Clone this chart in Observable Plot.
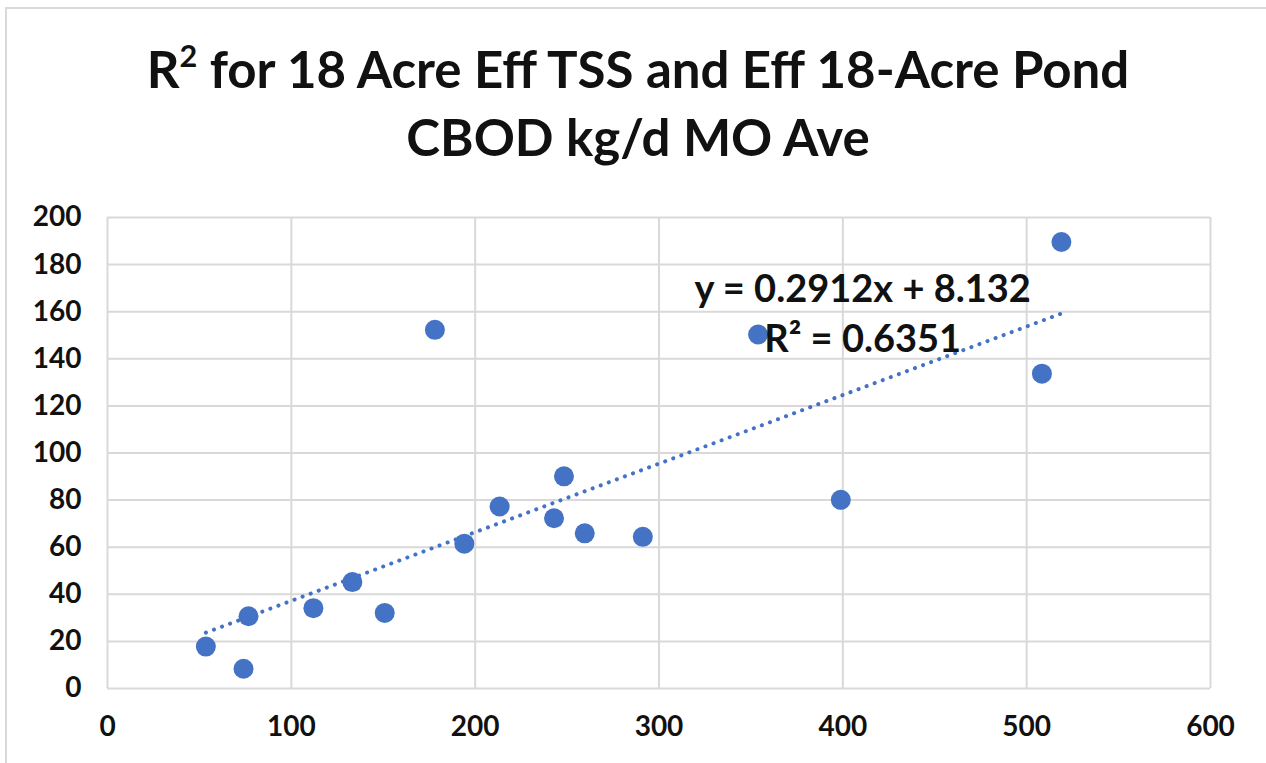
<!DOCTYPE html>
<html>
<head>
<meta charset="utf-8">
<script src="https://cdn.jsdelivr.net/npm/d3@7"></script>
<script src="https://cdn.jsdelivr.net/npm/@observablehq/plot@0.6"></script>
<style>
  html, body { margin: 0; padding: 0; background: #fff; }
  #wrap { position: relative; width: 1266px; height: 763px; overflow: hidden; background: #fff; }
  #frame { position: absolute; left: 5px; top: 7px; width: 1400px; height: 900px;
           border-top: 2px solid #d9d9d9; border-left: 2px solid #d9d9d9; }
  .tline { position: absolute; left: 5px; width: 1266px; height: 60px; text-align: center;
           font-family: Lato, "Open Sans", sans-serif; font-weight: bold; font-size: 51px;
           line-height: 60px; color: #111; white-space: nowrap; }
  .tline sup { font-size: 0.6em; line-height: 0; vertical-align: 0; position: relative; top: -0.7em; }
  #chart { position: absolute; left: 0; top: 170px; }
</style>
</head>
<body>
<div id="wrap">
  <div id="frame"></div>
  <div class="tline" style="top:39px">R<sup>2</sup> for 18 Acre Eff TSS and Eff 18-Acre Pond</div>
  <div class="tline" style="top:107px">CBOD kg/d MO Ave</div>
  <div id="chart"></div>
</div>
<script>
// Data
const effTSS  = [53.5, 74.0, 76.7, 112.0, 133.2, 150.8, 178.1, 194.1, 213.3, 242.9, 248.3, 259.6, 291.2, 353.9, 398.9, 508.3, 518.9];
const pondCBOD = [17.8, 8.4, 30.7, 34.1, 45.2, 32.1, 152.3, 61.5, 77.3, 72.3, 90.1, 65.9, 64.4, 150.3, 80.1, 133.7, 189.6];
const xTicks = [0, 100, 200, 300, 400, 500, 600];
const yTicks = [0, 20, 40, 60, 80, 100, 120, 140, 160, 180, 200];
const trendSlope = 0.2912;
const trendIntercept = 8.132;
const trendLabel = "y = 0.2912x + 8.132\nR² = 0.6351";
const labelAnchorX = 410.8;
const labelAnchorY = 160.5;

const points = effTSS.map((x, i) => ({x, y: pondCBOD[i]}));
const xMin = d3.min(effTSS), xMax = d3.max(effTSS);
const trend = [xMin, xMax].map(x => ({x, y: trendSlope * x + trendIntercept}));

const blue = "#4472C4";
const chart = Plot.plot({
  width: 1266,
  height: 593,
  marginLeft: 107,
  marginRight: 56,
  marginTop: 47,
  marginBottom: 75,
  style: {fontFamily: "Lato, 'Open Sans', sans-serif", fontSize: "28px", fontWeight: "bold", color: "#111", background: "transparent", overflow: "visible"},
  x: {domain: [0, 600], ticks: xTicks, tickSize: 0, tickPadding: 28, label: null},
  y: {domain: [0, 200], ticks: yTicks, tickSize: 0, tickPadding: 26, label: null},
  marks: [
    Plot.gridY(yTicks, {stroke: "#d9d9d9", strokeOpacity: 1, strokeWidth: 2}),
    Plot.gridX(xTicks, {stroke: "#d9d9d9", strokeOpacity: 1, strokeWidth: 2}),
    Plot.line(trend, {x: "x", y: "y", stroke: blue, strokeWidth: 4, strokeDasharray: "0.1 8.5", strokeLinecap: "round"}),
    Plot.dot(points, {x: "x", y: "y", r: 10, fill: blue, stroke: "none"}),
    Plot.text([trendLabel], {x: () => labelAnchorX, y: () => labelAnchorY, text: d => d, fontSize: 38, fontWeight: "bold", lineHeight: 1.32, textAnchor: "middle", fill: "#111"})
  ]
});
document.getElementById("chart").appendChild(chart);
</script>
</body>
</html>
